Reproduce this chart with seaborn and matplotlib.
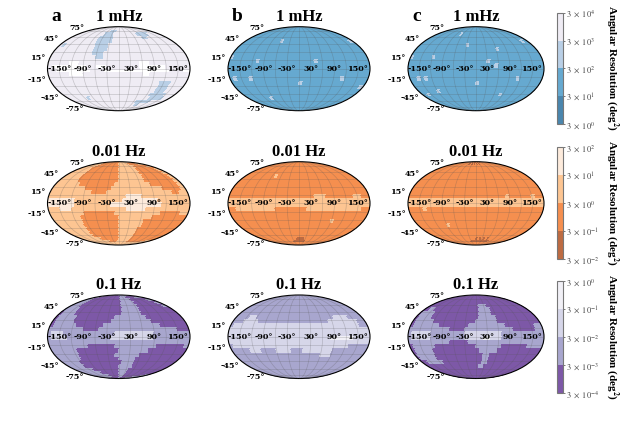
import numpy as np
import matplotlib
matplotlib.use("Agg")
import matplotlib.pyplot as plt
from matplotlib.colors import ListedColormap, LogNorm
import seaborn as sns

sns.set_theme(style="white")
plt.rcParams["font.family"] = ["Liberation Serif", "DejaVu Serif"]
plt.rcParams["mathtext.fontset"] = "stix"
plt.rcParams["axes.unicode_minus"] = False

FREQS = ["1 mHz", "0.01 Hz", "0.1 Hz"]
LETTERS = ["a", "b", "c"]
LON_TICKS = [-150, -90, -30, 30, 90, 150]
LON_LABELS = ["-150°", "-90°", "-30°", "30°", "90°", "150°"]
LAT_LABELS = ["75°", "45°", "15°", "-15°", "-45°", "-75°"]
EXPONENT_START = [0, -2, -4]

BLUES = ["#4a86ae", "#66a9d0", "#b9cfe6", "#efecf4"]
ORANGES = ["#bd6b42", "#f58f4f", "#fdc592", "#fdebdc"]
PURPLES = ["#7d58a7", "#a8a6ce", "#d6d6e9", "#f1f0f6"]

# Sky maps: band index per cell (0 lowest band, 3 highest, 4 = no colour).
# 24 latitude rows from north to south, 36 longitude columns from -180 to 180.
A1 = """
333333 333333 333333 333333 333333 333333
333333 333333 333333 333333 333333 333333
333333 333333 332223 333333 333333 333333
333333 333333 222233 333333 332222 233333
333333 333332 222233 333333 333223 333333
333333 333332 222233 333333 333333 333333
323333 333332 222333 333333 333333 333333
333333 333332 222333 333333 333333 333333
333333 333332 223333 333333 333333 333333
333333 333333 223333 333333 333333 333333
333334 443333 333333 333334 443333 333333
344444 444433 444333 333334 444444 333333
334444 444443 334444 444444 444444 433344
333334 444333 333333 333333 443333 333333
333333 333333 333333 333333 333333 333333
333333 333333 333333 333333 333332 223333
333333 333333 333333 333333 333332 223333
333333 333333 333333 333333 333332 223333
333333 333333 333333 333333 333322 222333
333333 323333 333333 333333 333332 222233
333333 333333 333333 333333 322222 233333
333333 333333 333333 333333 332233 333333
333333 333333 333333 333333 333333 333333
333333 333333 333333 333333 333333 333333
"""
A2 = """
222222 221111 111111 222222 222222 222222
222222 111111 111111 222222 222111 111122
222222 111111 111111 222222 222111 111112
222222 111111 111111 222222 221111 111112
222222 111111 111111 222222 221111 111112
222222 111111 111111 222222 221111 111112
222222 111111 111111 222222 221111 111112
222222 211111 111112 222222 222111 111112
222222 222111 111122 222222 222222 111112
222222 222221 111222 222222 222222 221122
222222 222222 222222 223333 222222 222222
333333 322222 222222 233333 333322 222222
333333 322222 222233 333333 333332 222222
222333 222222 222222 223333 322222 222222
222222 222111 111112 222222 222221 111122
222222 221111 111111 222222 222111 111111
222222 221111 111111 222222 211111 111111
222222 221111 111111 222222 211111 111111
222222 221111 111111 222222 111111 111111
222222 221111 111111 222222 111111 111111
222222 221111 111111 222222 111111 111111
222222 222211 111111 222222 111111 111111
222222 222222 211112 222222 111111 111122
222222 222222 222222 222222 222222 222222
"""
A3 = """
111110 000000 000000 011111 110000 001111
111100 000000 000000 011111 100000 000111
111100 000000 000000 011111 100000 000011
111100 000000 000000 011111 100000 000001
111100 000000 000000 011111 100000 000001
111110 000000 000000 011111 100000 000000
011110 000000 000000 011111 100000 000000
011111 000000 000001 111111 110000 000000
011111 000000 000011 111111 111000 000000
011111 100000 001111 111111 111110 000000
111111 111000 011111 111111 111111 111000
122211 111111 111112 222222 222111 111111
122221 111111 111122 222222 222111 111111
111111 111111 111111 111111 111111 111111
111111 111100 000001 111111 111100 000001
111111 100000 000000 111111 110000 000000
111111 100000 000001 111111 000000 000000
111111 100000 000000 111110 000000 000000
111111 000000 000000 011110 000000 000000
111111 000000 000000 111110 000000 000000
111111 110000 000000 111100 000000 000000
111111 111100 000000 111100 000000 000000
111111 111111 000000 111100 000000 000011
111111 111111 000000 111100 000000 011111
"""
B1 = """
111111 111111 111111 111111 111111 111111
111111 111111 111111 111111 111111 111111
111111 111111 111111 111111 111111 111111
111111 111111 111111 111111 111111 111111
111111 111111 111111 111111 111111 111111
111111 111111 211111 111111 111111 111112
111111 111111 111111 111111 111111 111111
111111 111111 111111 111111 111111 111111
111111 111111 111111 111111 111111 111111
211111 111111 111111 111111 111111 111111
111111 121111 111111 111121 111111 111111
111111 111111 111111 111111 111111 111111
111111 111111 111111 111111 111111 111111
111111 111111 111111 111111 111111 111111
121112 111111 111111 111111 111112 111111
111111 111111 111111 211111 111111 111111
111111 111111 111111 111111 111111 111112
111111 111111 111111 111111 111111 111111
111111 111111 111111 111111 111111 111111
111111 112111 111111 111111 111111 111111
111111 111111 111111 111111 111111 111111
111111 111111 111111 111111 111111 111111
111111 111111 111111 111111 111111 111111
111111 111111 111111 111111 111111 111111
"""
B2 = """
111111 111111 111111 111111 111111 111111
111111 111111 111111 111111 111111 111111
111111 111111 111111 111111 111111 111111
111111 111111 111111 111111 111111 111111
111111 111111 111111 111111 111111 111111
111111 111121 111111 111111 111111 111111
111111 111111 111111 111111 111111 111111
111111 111111 111111 111111 111111 111111
111111 111111 111111 111111 111111 111111
111111 111111 111111 111111 111111 111111
111111 111111 111111 111122 211111 112211
222222 222222 222222 222222 222222 222222
222222 222222 222222 222222 222222 222222
112222 222222 111111 112222 222222 222211
111111 111111 111111 111111 111111 111111
111111 111111 111111 111111 111111 111111
111111 111111 111111 111111 111211 111111
111111 111111 111111 111111 111111 111111
111111 111111 111111 111111 111111 111111
111111 111111 111111 111111 111111 111111
111111 111111 111111 111111 111111 111111
111111 111111 111110 000111 111111 111111
111111 111111 111000 000011 111111 111111
111111 111111 111111 111111 111111 111111
"""
B3 = """
111111 111111 111111 111111 111111 111111
111111 111111 111111 111111 111111 111111
111111 111111 111111 111111 111111 111111
111111 111111 111111 111111 111111 111111
111111 111111 111111 111111 111111 111111
111111 111111 111111 111111 111111 111111
111111 111111 111111 111111 111111 111111
111122 111111 111111 111111 111122 221111
111222 211111 111111 111111 112222 222211
122222 222222 222222 222222 222222 222211
222222 222222 222222 222222 222222 222222
222222 222222 222222 222222 222222 222222
222222 222222 222222 222222 223333 332222
222222 222222 222222 222222 222222 222222
122222 222222 222222 222222 222222 211111
111112 221111 222211 122222 222111 111111
111111 111111 111111 111111 222111 111111
111111 111111 111111 111111 111111 111111
111111 111111 111111 111111 111111 111111
111111 111111 111111 111111 111111 111111
111111 111111 111111 111111 111111 111111
111111 111111 111111 111111 111111 111111
111111 111111 111111 111111 111111 111111
111111 111111 111111 111111 111111 111111
"""
C1 = """
111111 111111 111111 111111 111111 111111
111111 111111 111111 111111 111111 111111
111111 111111 111111 111111 111111 111111
111111 111112 111111 111111 111111 111111
111111 111111 111111 111111 111111 111111
111111 111111 111111 111111 111111 111121
111111 111111 111211 111111 111111 111111
111111 111111 111111 111111 211111 111111
111111 111111 111111 111111 111111 111111
211111 211111 111111 111111 111111 111111
111111 111111 111111 111211 111111 111111
111111 111111 111111 111112 111111 111111
111111 111111 111111 111111 111111 111111
111111 111111 111111 111111 111111 111111
112121 111111 111111 111111 111112 111111
111111 111111 111111 211111 111111 111111
111111 111111 111111 111111 111111 111111
111111 211111 111111 111111 111111 111111
112111 111111 111111 111111 112111 111111
111111 111111 111111 111111 111111 111111
111111 111111 111111 111111 111111 111111
111111 111111 111111 111111 111111 111111
111111 111111 111111 111111 111111 111111
111111 111111 111111 111111 111111 111111
"""
C2 = """
111111 111111 111111 111111 111111 111111
111111 111111 101010 101011 111111 111111
111111 111111 111111 111111 111111 111111
111111 111111 111111 111111 111111 111111
111111 111111 111111 111111 111111 111111
111111 111111 111111 111111 111111 111111
111111 111111 111111 111111 111111 111111
111111 111111 111111 111111 111111 111111
111111 111111 111111 111111 111111 111111
111111 111111 111111 111111 111111 111111
111111 111111 111111 111111 112111 111211
222222 222222 222222 222222 222222 222222
222222 222222 222222 222222 222222 222222
111121 111111 111111 111111 111111 111111
111111 111111 111111 111111 111111 111111
111111 111111 111111 111111 111111 111111
111111 111111 111111 111111 111111 111111
111111 111211 111111 111111 111111 111111
111111 111111 111111 111111 111111 111111
111111 111111 111111 111111 111111 111111
111111 111111 111111 111111 111111 111111
111111 111111 111111 010101 011111 111111
111111 111111 111000 000000 000111 111111
111111 111111 111111 111111 111111 111111
"""
C3 = """
000000 000000 000000 000000 000000 000000
000000 000000 000000 000000 000000 000000
000000 000000 000000 000000 000000 000000
000000 000000 000000 000000 000000 000000
000000 000000 000000 011100 000000 000000
001100 000000 000000 011110 000000 000000
011110 000000 000000 011110 000000 000000
011110 000000 000000 011111 000000 000000
011111 000000 000000 111111 000000 000000
011111 110000 000011 111111 110000 000011
111111 111110 000111 111111 111100 000011
122222 111111 111222 222222 211111 111111
122222 111111 111222 223322 211111 111111
111111 111110 000011 111111 111111 111111
011111 100000 000000 111111 100000 001111
011111 000000 000000 011111 000000 000000
011111 000000 000000 001100 000000 000000
011111 000000 000000 001100 000000 000000
001111 100000 000000 001100 000000 000000
000000 000000 000000 011000 000000 000000
000000 000000 000000 000000 000000 000000
000000 000000 000000 000000 000000 000000
000000 000000 000000 000000 000000 000000
000000 000000 000000 000000 000000 000000
"""
MAPS = [[A1, B1, C1], [A2, B2, C2], [A3, B3, C3]]
PALETTES = [BLUES, ORANGES, PURPLES]


def parse(text):
    rows = [line.replace(" ", "") for line in text.strip().splitlines()]
    return np.array([[int(ch) for ch in row] for row in rows], dtype=float)


W, H = 634, 423
fig = plt.figure(figsize=(W / 100, H / 100), dpi=100)


def rect(x0, y0, x1, y1):
    return [x0 / W, 1 - y1 / H, (x1 - x0) / W, (y1 - y0) / H]


COL_X = [(47.5, 190), (228, 370), (408, 544)]
ROW_Y = [(26.7, 110.7), (161.7, 245), (295, 378.5)]
CBAR_Y = [(12.7, 124.3), (147, 259), (281, 393)]
# Pixel offsets of the latitude labels: right end from the map's left edge, height from its centre.
LAT_RIGHT = [36.5, 11.5, -1.5, -1.5, 11.5, 36.5]
LAT_HEIGHT = [40.5, 29.7, 11, -11, -29.7, -40.5]
lon_edges = np.radians(np.linspace(-180, 180, 37))
lat_edges = np.radians(np.linspace(90, -90, 25))
tick_font = dict(family="DejaVu Serif", fontweight="bold", fontsize=5.8, color="black")

for r, (freq, pal, start) in enumerate(zip(FREQS, PALETTES, EXPONENT_START)):
    cmap = ListedColormap(sns.color_palette(pal))
    norm = LogNorm(3 * 10.0**start, 3 * 10.0**(start + 4))
    mesh = None
    for c in range(3):
        x0, x1 = COL_X[c]
        y0, y1 = ROW_Y[r]
        ax = fig.add_axes(rect(x0, y0, x1, y1), projection="mollweide")
        ax.set_aspect("auto")
        levels = parse(MAPS[r][c])
        values = 3 * 10.0**(start + levels + 0.5)
        values = np.ma.masked_where(levels > 3, values)
        mesh = ax.pcolormesh(lon_edges, lat_edges, values, cmap=cmap, norm=norm,
                             shading="flat", edgecolors="face", linewidth=0.15)
        ax.set_longitude_grid(30)
        ax.set_latitude_grid(15)
        ax.set_longitude_grid_ends(88)
        ax.set_xticklabels([])
        ax.set_yticklabels([])
        ax.grid(True, color="#555555", alpha=0.28, linewidth=0.5)
        ax.set_axisbelow(False)
        for lon, lab in zip(LON_TICKS, LON_LABELS):
            ax.text(np.radians(lon), 0, lab, ha="center", va="center", **tick_font)
        width, height = x1 - x0, y1 - y0
        for lab, right, up in zip(LAT_LABELS, LAT_RIGHT, LAT_HEIGHT):
            ax.text(right / width, 0.5 + up / height, lab, transform=ax.transAxes,
                    ha="right", va="center", clip_on=False, **tick_font)
        for sp in ax.spines.values():
            sp.set_edgecolor("black")
            sp.set_linewidth(0.8)
        xmid = (x0 + x1) / 2
        fig.text(xmid / W, 1 - (y0 - 6) / H, freq, ha="center", va="baseline",
                 fontsize=12, fontweight="bold", color="black")
        if r == 0:
            fig.text((x0 + 9) / W, 1 - (y0 - 6) / H, LETTERS[c], ha="center",
                     va="baseline", fontsize=14, fontweight="bold", color="black")
    cax = fig.add_axes(rect(556.7, CBAR_Y[r][0], 563, CBAR_Y[r][1]))
    cb = fig.colorbar(mesh, cax=cax)
    ticks = [3 * 10.0**(start + i) for i in range(5)]
    cb.set_ticks(ticks)
    cb.set_ticklabels([f"$3\\ \\times\\ 10^{{{start + i}}}$" for i in range(5)])
    cb.minorticks_off()
    cb.ax.tick_params(labelsize=6, length=1.5, width=0.5, colors="#444444", pad=1, which="major")
    cb.ax.yaxis.set_tick_params(which="minor", length=0)
    cb.outline.set_edgecolor("#777777")
    cb.outline.set_linewidth(0.8)
    fig.text(612 / W, 1 - (CBAR_Y[r][0] + CBAR_Y[r][1]) / 2 / H,
             r"Angular Resolution (deg$\mathbf{^2}$)", rotation=270, ha="center",
             va="center", fontsize=8, fontweight="bold", color="black")

fig.savefig("out.png", dpi=100, facecolor="white")
